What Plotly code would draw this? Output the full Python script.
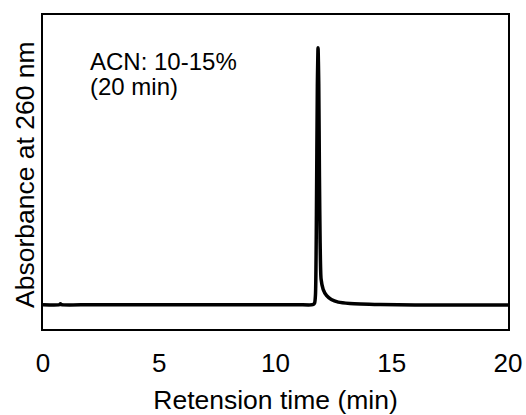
import plotly.graph_objects as go

# Retention time (min) and absorbance (relative units, peak = 100)
time_min = [0.0, 0.70, 0.75, 0.80, 2.0, 5.0, 8.0, 10.0, 11.0, 11.60, 11.68, 11.72,
            11.76, 11.80, 11.83, 11.86, 11.89, 11.92, 11.96, 12.05, 12.20, 12.40,
            12.70, 13.20, 14.50, 16.0, 18.0, 20.0]
absorbance = [0.0, 0.0, 0.4, 0.0, 0.0, 0.0, 0.0, 0.0, 0.0, 0.0, 0.6, 4.0,
              35.0, 85.0, 100.0, 86.0, 50.0, 24.0, 10.0, 6.0, 3.5, 2.0,
              1.0, 0.5, 0.1, -0.1, -0.1, -0.1]

x_ticks = [0, 5, 10, 15, 20]
label_line1 = "ACN: 10-15%"
label_line2 = "(20 min)"
x_title = "Retension time (min)"
y_title = "Absorbance at 260 nm"

font_family = "Arial, 'Liberation Sans', sans-serif"

fig = go.Figure()
fig.add_trace(go.Scatter(
    x=time_min, y=absorbance, mode="lines",
    line=dict(color="black", width=3.5, shape="spline", smoothing=0.6),
    hoverinfo="skip", showlegend=False,
))

fig.add_annotation(x=0.0, y=1.0, xref="paper", yref="paper", xanchor="left", yanchor="top",
                   text=label_line1, showarrow=False, xshift=45, yshift=-31,
                   font=dict(size=24, color="black", family=font_family))
fig.add_annotation(x=0.0, y=1.0, xref="paper", yref="paper", xanchor="left", yanchor="top",
                   text=label_line2, showarrow=False, xshift=45, yshift=-56,
                   font=dict(size=24, color="black", family=font_family))
fig.add_annotation(x=0.0, y=0.5, xref="paper", yref="paper", xanchor="center", yanchor="middle",
                   text=y_title, showarrow=False, textangle=-90, xshift=-18, yshift=-3,
                   font=dict(size=26.5, color="black", family=font_family))

fig.update_layout(
    width=526, height=415,
    margin=dict(l=43, r=18, t=15, b=86),
    paper_bgcolor="white", plot_bgcolor="white",
    font=dict(family=font_family, color="black", size=24),
    xaxis=dict(
        range=[0, 20], tickvals=x_ticks, ticktext=[str(t) for t in x_ticks],
        showgrid=False, zeroline=False, automargin=False,
        showline=True, linecolor="black", linewidth=2, mirror=True,
        ticks="outside", ticklen=10, tickcolor="rgba(0,0,0,0)",
        tickfont=dict(size=26),
        title=dict(text=x_title, font=dict(size=26.5), standoff=16),
    ),
    yaxis=dict(
        range=[-9.45, 112.7], showticklabels=False, ticks="",
        showgrid=False, zeroline=False, automargin=False,
        showline=True, linecolor="black", linewidth=2, mirror=True,
    ),
)

fig.write_html("out.html")
